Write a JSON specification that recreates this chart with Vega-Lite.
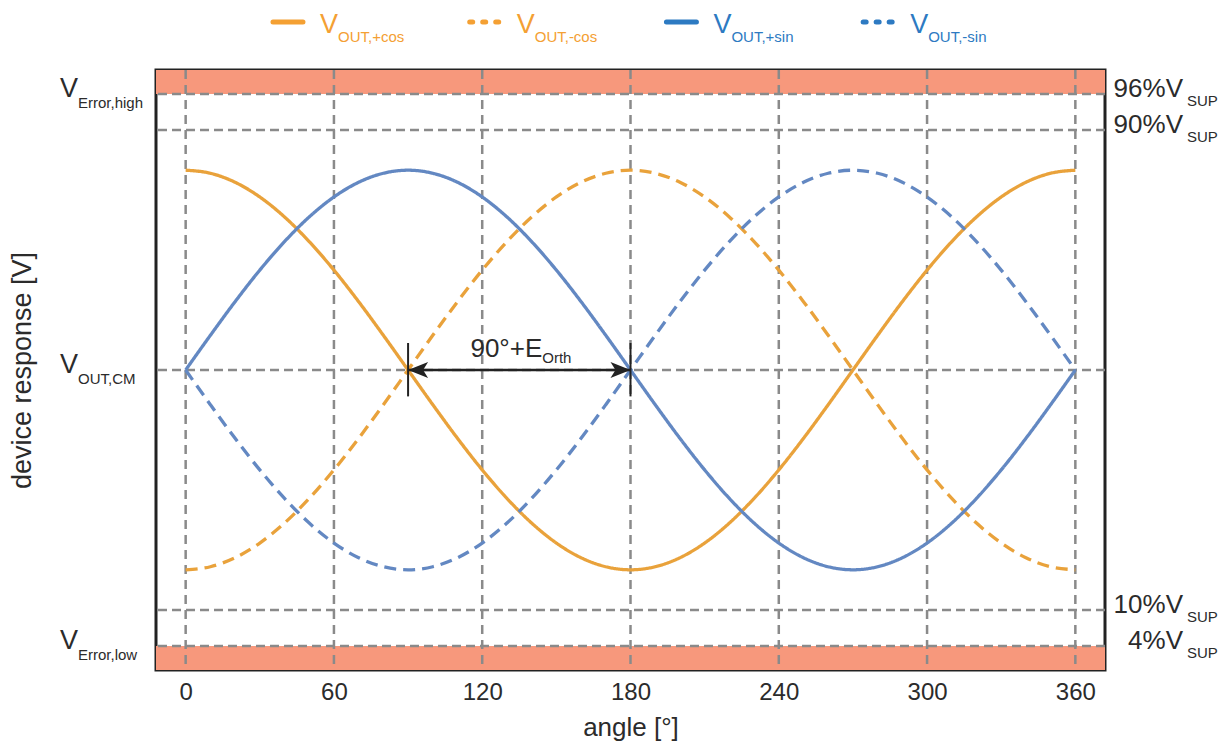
{
  "$schema": "https://vega.github.io/schema/vega-lite/v6.json",
  "width": 949,
  "height": 600,
  "autosize": {"type": "none"},
  "padding": {"left": 156, "top": 70, "right": 121, "bottom": 79},
  "background": "white",
  "config": {
    "view": {"stroke": "#222222", "strokeWidth": 3},
    "font": "Liberation Sans",
    "text": {"font": "Liberation Sans", "fill": "#2b2b2b"},
    "axis": {"grid": false, "domain": false, "ticks": false, "labelFont": "Liberation Sans", "titleFont": "Liberation Sans", "labelColor": "#2b2b2b", "titleColor": "#2b2b2b", "titleFontWeight": "normal"}
  },
  "datasets": {
    "curves": [
      {"a": 0, "cp": 83.3, "cn": 16.7, "sp": 50, "sn": 50},
      {"a": 10, "cp": 82.79, "cn": 17.21, "sp": 55.78, "sn": 44.22},
      {"a": 20, "cp": 81.29, "cn": 18.71, "sp": 61.39, "sn": 38.61},
      {"a": 30, "cp": 78.84, "cn": 21.16, "sp": 66.65, "sn": 33.35},
      {"a": 40, "cp": 75.51, "cn": 24.49, "sp": 71.4, "sn": 28.6},
      {"a": 50, "cp": 71.4, "cn": 28.6, "sp": 75.51, "sn": 24.49},
      {"a": 60, "cp": 66.65, "cn": 33.35, "sp": 78.84, "sn": 21.16},
      {"a": 70, "cp": 61.39, "cn": 38.61, "sp": 81.29, "sn": 18.71},
      {"a": 80, "cp": 55.78, "cn": 44.22, "sp": 82.79, "sn": 17.21},
      {"a": 90, "cp": 50, "cn": 50, "sp": 83.3, "sn": 16.7},
      {"a": 100, "cp": 44.22, "cn": 55.78, "sp": 82.79, "sn": 17.21},
      {"a": 110, "cp": 38.61, "cn": 61.39, "sp": 81.29, "sn": 18.71},
      {"a": 120, "cp": 33.35, "cn": 66.65, "sp": 78.84, "sn": 21.16},
      {"a": 130, "cp": 28.6, "cn": 71.4, "sp": 75.51, "sn": 24.49},
      {"a": 140, "cp": 24.49, "cn": 75.51, "sp": 71.4, "sn": 28.6},
      {"a": 150, "cp": 21.16, "cn": 78.84, "sp": 66.65, "sn": 33.35},
      {"a": 160, "cp": 18.71, "cn": 81.29, "sp": 61.39, "sn": 38.61},
      {"a": 170, "cp": 17.21, "cn": 82.79, "sp": 55.78, "sn": 44.22},
      {"a": 180, "cp": 16.7, "cn": 83.3, "sp": 50, "sn": 50},
      {"a": 190, "cp": 17.21, "cn": 82.79, "sp": 44.22, "sn": 55.78},
      {"a": 200, "cp": 18.71, "cn": 81.29, "sp": 38.61, "sn": 61.39},
      {"a": 210, "cp": 21.16, "cn": 78.84, "sp": 33.35, "sn": 66.65},
      {"a": 220, "cp": 24.49, "cn": 75.51, "sp": 28.6, "sn": 71.4},
      {"a": 230, "cp": 28.6, "cn": 71.4, "sp": 24.49, "sn": 75.51},
      {"a": 240, "cp": 33.35, "cn": 66.65, "sp": 21.16, "sn": 78.84},
      {"a": 250, "cp": 38.61, "cn": 61.39, "sp": 18.71, "sn": 81.29},
      {"a": 260, "cp": 44.22, "cn": 55.78, "sp": 17.21, "sn": 82.79},
      {"a": 270, "cp": 50, "cn": 50, "sp": 16.7, "sn": 83.3},
      {"a": 280, "cp": 55.78, "cn": 44.22, "sp": 17.21, "sn": 82.79},
      {"a": 290, "cp": 61.39, "cn": 38.61, "sp": 18.71, "sn": 81.29},
      {"a": 300, "cp": 66.65, "cn": 33.35, "sp": 21.16, "sn": 78.84},
      {"a": 310, "cp": 71.4, "cn": 28.6, "sp": 24.49, "sn": 75.51},
      {"a": 320, "cp": 75.51, "cn": 24.49, "sp": 28.6, "sn": 71.4},
      {"a": 330, "cp": 78.84, "cn": 21.16, "sp": 33.35, "sn": 66.65},
      {"a": 340, "cp": 81.29, "cn": 18.71, "sp": 38.61, "sn": 61.39},
      {"a": 350, "cp": 82.79, "cn": 17.21, "sp": 44.22, "sn": 55.78},
      {"a": 360, "cp": 83.3, "cn": 16.7, "sp": 50, "sn": 50}
    ],
    "bands": [{"lo": 0, "hi": 4}, {"lo": 96, "hi": 100}],
    "gx": [{"g": 0}, {"g": 60}, {"g": 120}, {"g": 180}, {"g": 240}, {"g": 300}, {"g": 360}],
    "gy": [{"g": 4}, {"g": 10}, {"g": 50}, {"g": 90}, {"g": 96}],
    "ann": [{"from": 90, "to": 180, "label": "90°+E", "sub": "Orth"}],
    "left": [
      {"lvl": 96, "main": "V", "sub": "Error,high"},
      {"lvl": 50, "main": "V", "sub": "OUT,CM"},
      {"lvl": 4, "main": "V", "sub": "Error,low"}
    ],
    "right": [
      {"lvl": 96, "main": "96%V", "sub": "SUP"},
      {"lvl": 90, "main": "90%V", "sub": "SUP"},
      {"lvl": 10, "main": "10%V", "sub": "SUP"},
      {"lvl": 4, "main": "4%V", "sub": "SUP"}
    ],
    "legend": [
      {"series": "cp", "main": "V", "sub": "OUT,+cos"},
      {"series": "cn", "main": "V", "sub": "OUT,-cos"},
      {"series": "sp", "main": "V", "sub": "OUT,+sin"},
      {"series": "sn", "main": "V", "sub": "OUT,-sin"}
    ]
  },
  "resolve": {"scale": {"x": "independent", "color": "independent", "strokeDash": "independent"}},
  "layer": [
    {
      "layer": [
        {
          "data": {"name": "bands"},
          "mark": {"type": "rect", "color": "#F7987C"},
          "encoding": {
            "x": {"datum": -12, "type": "quantitative", "scale": {"domain": [-12, 372]},
              "axis": {"values": [0, 60, 120, 180, 240, 300, 360], "title": "angle [°]", "labelFontSize": 24, "labelPadding": 10, "titleFontSize": 26, "titlePadding": 10}},
            "x2": {"datum": 372},
            "y": {"field": "lo", "type": "quantitative", "scale": {"domain": [0, 100]},
              "axis": {"labels": false, "labelPadding": 0, "title": "device response [V]", "titleFontSize": 27, "titlePadding": 120}},
            "y2": {"field": "hi"}
          }
        },
        {
          "data": {"name": "gx"},
          "mark": {"type": "rule", "color": "#8a8a8a", "strokeWidth": 2.5, "strokeDash": [9, 6]},
          "encoding": {
            "x": {"field": "g", "type": "quantitative", "scale": {"domain": [-12, 372]},
              "axis": {"values": [0, 60, 120, 180, 240, 300, 360], "title": "angle [°]", "labelFontSize": 24, "labelPadding": 10, "titleFontSize": 26, "titlePadding": 10}}
          }
        },
        {
          "data": {"name": "gy"},
          "mark": {"type": "rule", "color": "#8a8a8a", "strokeWidth": 2.5, "strokeDash": [9, 5]},
          "encoding": {
            "y": {"field": "g", "type": "quantitative", "scale": {"domain": [0, 100]},
              "axis": {"labels": false, "labelPadding": 0, "title": "device response [V]", "titleFontSize": 27, "titlePadding": 120}}
          }
        },
        {
          "data": {"name": "curves"},
          "transform": [{"fold": ["cp", "cn", "sp", "sn"], "as": ["series", "v"]}],
          "mark": {"type": "line", "interpolate": "monotone", "strokeWidth": 3.3},
          "encoding": {
            "x": {"field": "a", "type": "quantitative", "scale": {"domain": [-12, 372]},
              "axis": {"values": [0, 60, 120, 180, 240, 300, 360], "title": "angle [°]", "labelFontSize": 24, "labelPadding": 10, "titleFontSize": 26, "titlePadding": 10}},
            "y": {"field": "v", "type": "quantitative", "scale": {"domain": [0, 100]},
              "axis": {"labels": false, "labelPadding": 0, "title": "device response [V]", "titleFontSize": 27, "titlePadding": 120}},
            "color": {"field": "series", "type": "nominal", "legend": null,
              "scale": {"domain": ["cp", "cn", "sp", "sn"], "range": ["#E9A23B", "#E9A23B", "#6388C2", "#6388C2"]}},
            "strokeDash": {"field": "series", "type": "nominal", "legend": null,
              "scale": {"domain": ["cp", "cn", "sp", "sn"], "range": [[1, 0], [12, 7], [1, 0], [12, 7]]}}
          }
        },
        {
          "data": {"name": "ann"},
          "mark": {"type": "rule", "color": "#222222", "strokeWidth": 2.5},
          "encoding": {
            "x": {"field": "from", "type": "quantitative", "scale": {"domain": [-12, 372]},
              "axis": {"values": [0, 60, 120, 180, 240, 300, 360], "title": "angle [°]", "labelFontSize": 24, "labelPadding": 10, "titleFontSize": 26, "titlePadding": 10}},
            "x2": {"field": "to"},
            "y": {"datum": 50, "type": "quantitative", "scale": {"domain": [0, 100]},
              "axis": {"labels": false, "labelPadding": 0, "title": "device response [V]", "titleFontSize": 27, "titlePadding": 120}}
          }
        },
        {
          "data": {"name": "ann"},
          "mark": {"type": "rule", "color": "#222222", "strokeWidth": 2},
          "encoding": {
            "x": {"field": "from", "type": "quantitative", "scale": {"domain": [-12, 372]},
              "axis": {"values": [0, 60, 120, 180, 240, 300, 360], "title": "angle [°]", "labelFontSize": 24, "labelPadding": 10, "titleFontSize": 26, "titlePadding": 10}},
            "y": {"datum": 45.6, "type": "quantitative", "scale": {"domain": [0, 100]},
              "axis": {"labels": false, "labelPadding": 0, "title": "device response [V]", "titleFontSize": 27, "titlePadding": 120}},
            "y2": {"datum": 54.5}
          }
        },
        {
          "data": {"name": "ann"},
          "mark": {"type": "rule", "color": "#222222", "strokeWidth": 2},
          "encoding": {
            "x": {"field": "to", "type": "quantitative", "scale": {"domain": [-12, 372]},
              "axis": {"values": [0, 60, 120, 180, 240, 300, 360], "title": "angle [°]", "labelFontSize": 24, "labelPadding": 10, "titleFontSize": 26, "titlePadding": 10}},
            "y": {"datum": 45.6, "type": "quantitative", "scale": {"domain": [0, 100]},
              "axis": {"labels": false, "labelPadding": 0, "title": "device response [V]", "titleFontSize": 27, "titlePadding": 120}},
            "y2": {"datum": 54.5}
          }
        },
        {
          "data": {"name": "ann"},
          "mark": {"type": "point", "shape": "M0,0L2,-0.8L1.5,0L2,0.8Z", "size": 400, "filled": true, "color": "#222222", "opacity": 1},
          "encoding": {
            "x": {"field": "from", "type": "quantitative", "scale": {"domain": [-12, 372]},
              "axis": {"values": [0, 60, 120, 180, 240, 300, 360], "title": "angle [°]", "labelFontSize": 24, "labelPadding": 10, "titleFontSize": 26, "titlePadding": 10}},
            "y": {"datum": 50, "type": "quantitative", "scale": {"domain": [0, 100]},
              "axis": {"labels": false, "labelPadding": 0, "title": "device response [V]", "titleFontSize": 27, "titlePadding": 120}}
          }
        },
        {
          "data": {"name": "ann"},
          "mark": {"type": "point", "shape": "M0,0L-2,-0.8L-1.5,0L-2,0.8Z", "size": 400, "filled": true, "color": "#222222", "opacity": 1},
          "encoding": {
            "x": {"field": "to", "type": "quantitative", "scale": {"domain": [-12, 372]},
              "axis": {"values": [0, 60, 120, 180, 240, 300, 360], "title": "angle [°]", "labelFontSize": 24, "labelPadding": 10, "titleFontSize": 26, "titlePadding": 10}},
            "y": {"datum": 50, "type": "quantitative", "scale": {"domain": [0, 100]},
              "axis": {"labels": false, "labelPadding": 0, "title": "device response [V]", "titleFontSize": 27, "titlePadding": 120}}
          }
        },
        {
          "data": {"name": "ann"},
          "mark": {"type": "text", "align": "right", "baseline": "alphabetic", "fontSize": 26, "dx": 23, "dy": -13},
          "encoding": {
            "x": {"datum": 135, "type": "quantitative", "scale": {"domain": [-12, 372]},
              "axis": {"values": [0, 60, 120, 180, 240, 300, 360], "title": "angle [°]", "labelFontSize": 24, "labelPadding": 10, "titleFontSize": 26, "titlePadding": 10}},
            "y": {"datum": 50, "type": "quantitative", "scale": {"domain": [0, 100]},
              "axis": {"labels": false, "labelPadding": 0, "title": "device response [V]", "titleFontSize": 27, "titlePadding": 120}},
            "text": {"field": "label"}
          }
        },
        {
          "data": {"name": "ann"},
          "mark": {"type": "text", "align": "left", "baseline": "alphabetic", "fontSize": 15, "dx": 23, "dy": -7},
          "encoding": {
            "x": {"datum": 135, "type": "quantitative", "scale": {"domain": [-12, 372]},
              "axis": {"values": [0, 60, 120, 180, 240, 300, 360], "title": "angle [°]", "labelFontSize": 24, "labelPadding": 10, "titleFontSize": 26, "titlePadding": 10}},
            "y": {"datum": 50, "type": "quantitative", "scale": {"domain": [0, 100]},
              "axis": {"labels": false, "labelPadding": 0, "title": "device response [V]", "titleFontSize": 27, "titlePadding": 120}},
            "text": {"field": "sub"}
          }
        },
        {
          "data": {"name": "left"},
          "mark": {"type": "text", "align": "left", "baseline": "alphabetic", "fontSize": 27, "dx": -96, "dy": 3},
          "encoding": {
            "x": {"datum": -12, "type": "quantitative", "scale": {"domain": [-12, 372]},
              "axis": {"values": [0, 60, 120, 180, 240, 300, 360], "title": "angle [°]", "labelFontSize": 24, "labelPadding": 10, "titleFontSize": 26, "titlePadding": 10}},
            "y": {"field": "lvl", "type": "quantitative", "scale": {"domain": [0, 100]},
              "axis": {"labels": false, "labelPadding": 0, "title": "device response [V]", "titleFontSize": 27, "titlePadding": 120}},
            "text": {"field": "main"}
          }
        },
        {
          "data": {"name": "left"},
          "mark": {"type": "text", "align": "left", "baseline": "alphabetic", "fontSize": 15, "dx": -78, "dy": 14},
          "encoding": {
            "x": {"datum": -12, "type": "quantitative", "scale": {"domain": [-12, 372]},
              "axis": {"values": [0, 60, 120, 180, 240, 300, 360], "title": "angle [°]", "labelFontSize": 24, "labelPadding": 10, "titleFontSize": 26, "titlePadding": 10}},
            "y": {"field": "lvl", "type": "quantitative", "scale": {"domain": [0, 100]},
              "axis": {"labels": false, "labelPadding": 0, "title": "device response [V]", "titleFontSize": 27, "titlePadding": 120}},
            "text": {"field": "sub"}
          }
        },
        {
          "data": {"name": "right"},
          "mark": {"type": "text", "align": "right", "baseline": "alphabetic", "fontSize": 26, "dx": 78, "dy": 3},
          "encoding": {
            "x": {"datum": 372, "type": "quantitative", "scale": {"domain": [-12, 372]},
              "axis": {"values": [0, 60, 120, 180, 240, 300, 360], "title": "angle [°]", "labelFontSize": 24, "labelPadding": 10, "titleFontSize": 26, "titlePadding": 10}},
            "y": {"field": "lvl", "type": "quantitative", "scale": {"domain": [0, 100]},
              "axis": {"labels": false, "labelPadding": 0, "title": "device response [V]", "titleFontSize": 27, "titlePadding": 120}},
            "text": {"field": "main"}
          }
        },
        {
          "data": {"name": "right"},
          "mark": {"type": "text", "align": "left", "baseline": "alphabetic", "fontSize": 15, "dx": 82, "dy": 12},
          "encoding": {
            "x": {"datum": 372, "type": "quantitative", "scale": {"domain": [-12, 372]},
              "axis": {"values": [0, 60, 120, 180, 240, 300, 360], "title": "angle [°]", "labelFontSize": 24, "labelPadding": 10, "titleFontSize": 26, "titlePadding": 10}},
            "y": {"field": "lvl", "type": "quantitative", "scale": {"domain": [0, 100]},
              "axis": {"labels": false, "labelPadding": 0, "title": "device response [V]", "titleFontSize": 27, "titlePadding": 120}},
            "text": {"field": "sub"}
          }
        }
      ]
    },
    {
      "data": {"name": "legend"},
      "encoding": {
        "x": {"field": "series", "type": "nominal", "sort": null,
          "scale": {"type": "point", "domain": ["cp", "cn", "sp", "sn"], "padding": 0.912, "align": 0.457}, "axis": null},
        "y": {"datum": 108, "type": "quantitative", "scale": {"domain": [0, 100]},
          "axis": {"labels": false, "labelPadding": 0, "title": "device response [V]", "titleFontSize": 27, "titlePadding": 120}},
        "color": {"field": "series", "type": "nominal", "legend": null,
          "scale": {"domain": ["cp", "cn", "sp", "sn"], "range": ["#F4A033", "#F4A033", "#2D7AC2", "#2D7AC2"]}}
      },
      "layer": [
        {
          "mark": {"type": "rule", "strokeWidth": 5, "strokeCap": "round", "xOffset": -47, "x2Offset": -17},
          "encoding": {
            "x2": {"field": "series"},
            "strokeDash": {"field": "series", "type": "nominal", "legend": null,
              "scale": {"domain": ["cp", "cn", "sp", "sn"], "range": [[1, 0], [3, 10], [1, 0], [3, 10]]}}
          }
        },
        {
          "mark": {"type": "text", "align": "left", "baseline": "alphabetic", "fontSize": 27, "dy": 11},
          "encoding": {"text": {"field": "main"}}
        },
        {
          "mark": {"type": "text", "align": "left", "baseline": "alphabetic", "fontSize": 15, "dx": 18, "dy": 20},
          "encoding": {"text": {"field": "sub"}}
        }
      ]
    }
  ]
}
